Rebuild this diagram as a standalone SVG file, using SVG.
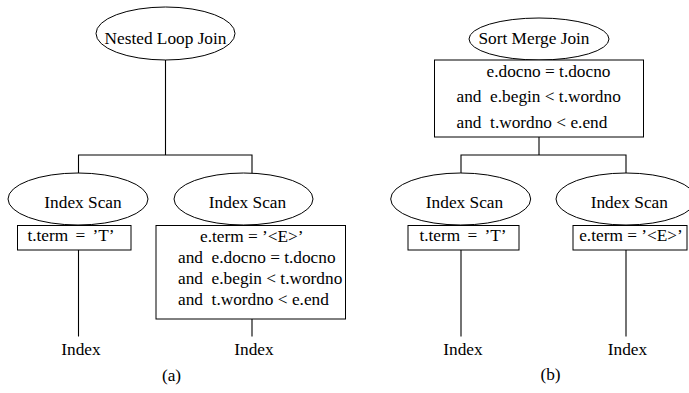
<svg xmlns="http://www.w3.org/2000/svg" width="689" height="393" viewBox="0 0 689 393">
<style>
  .n { fill: #fff; stroke: #000; stroke-width: 1; }
  .c { fill: none; stroke: #000; stroke-width: 1.1; }
  .t { font-family: 'Liberation Serif', 'Times New Roman', Times, serif; font-size: 17.3px; fill: #000; }
  .m { text-anchor: middle; }
  .w { word-spacing: 3px; }
</style>
<rect width="689" height="393" fill="#fff"/>
<g id="connectors">
  <path class="c" d="M165.5,60 V155 M78.5,173 V155 H252 V173"/>
  <path class="c" d="M78.5,250 V336.5"/>
  <path class="c" d="M252,319 V336.5"/>
  <path class="c" d="M539,137 V155 M461,173 V155 H626 V173"/>
  <path class="c" d="M461,250 V336.5"/>
  <path class="c" d="M626,250 V336.5"/>
</g>
<g class="t">
<g id="nested-loop-join">
  <ellipse class="n" cx="165.5" cy="33.5" rx="69.5" ry="26.5"/>
  <text class="m" x="165.5" y="43.5">Nested Loop Join</text>
</g>
<g id="a-index-scan-left">
  <ellipse class="n" cx="78" cy="199" rx="70" ry="26"/>
  <text class="m" x="83" y="208">Index Scan</text>
</g>
<g id="a-cond-left">
  <rect class="n" x="17.5" y="225.5" width="113.5" height="24.5"/>
  <text class="m w" x="71" y="240.5" xml:space="preserve">t.term = ’T’</text>
</g>
<g id="a-index-left">
  <text class="m" x="81" y="355">Index</text>
</g>
<g id="a-index-scan-right">
  <ellipse class="n" cx="243.5" cy="199" rx="69.5" ry="26"/>
  <text class="m" x="247.5" y="208">Index Scan</text>
</g>
<g id="a-cond-right">
  <rect class="n" x="156" y="225.5" width="189.5" height="93.5"/>
  <text x="200" y="241.5" xml:space="preserve">e.term = ’&lt;E&gt;’</text>
  <text x="178" y="262.5" xml:space="preserve">and  e.docno = t.docno</text>
  <text x="178" y="283.5" xml:space="preserve">and  e.begin &lt; t.wordno</text>
  <text x="178" y="304.5" xml:space="preserve">and  t.wordno &lt; e.end</text>
</g>
<g id="a-index-right">
  <text class="m" x="254" y="355">Index</text>
</g>
<g id="label-a">
  <text class="m" x="171.5" y="381">(a)</text>
</g>
<g id="sort-merge-join">
  <ellipse class="n" cx="539" cy="39" rx="70" ry="21"/>
  <text class="m" x="534" y="43.5">Sort Merge Join</text>
</g>
<g id="b-join-cond">
  <rect class="n" x="434.5" y="60" width="209" height="77"/>
  <text x="486.5" y="77" xml:space="preserve">e.docno = t.docno</text>
  <text x="456.5" y="101.5" xml:space="preserve">and  e.begin &lt; t.wordno</text>
  <text x="456.5" y="128" xml:space="preserve">and  t.wordno &lt; e.end</text>
</g>
<g id="b-index-scan-left">
  <ellipse class="n" cx="460.7" cy="199" rx="70" ry="26"/>
  <text class="m" x="464.5" y="208">Index Scan</text>
</g>
<g id="b-cond-left">
  <rect class="n" x="408" y="225.5" width="111" height="24.5"/>
  <text class="m w" x="463" y="240.5" xml:space="preserve">t.term = ’T’</text>
</g>
<g id="b-index-left">
  <text class="m" x="463" y="355">Index</text>
</g>
<g id="b-index-scan-right">
  <ellipse class="n" cx="626" cy="199" rx="70" ry="26"/>
  <text class="m" x="629.3" y="208">Index Scan</text>
</g>
<g id="b-cond-right">
  <rect class="n" x="573" y="225.5" width="114" height="24.5"/>
  <text class="m" x="631" y="240.5" xml:space="preserve">e.term = ’&lt;E&gt;’</text>
</g>
<g id="b-index-right">
  <text class="m" x="627.5" y="355">Index</text>
</g>
<g id="label-b">
  <text class="m" x="550.5" y="379.5">(b)</text>
</g>
</g>
</svg>
